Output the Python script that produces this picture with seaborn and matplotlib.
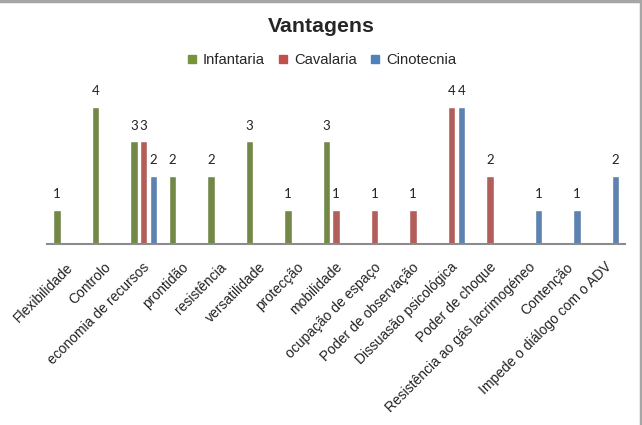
import matplotlib
matplotlib.use("Agg")
import matplotlib.pyplot as plt
import matplotlib.transforms as mtransforms
from matplotlib.lines import Line2D
import seaborn as sns
import pandas as pd

categorias = ["Flexibilidade", "Controlo", "economia de recursos", "prontidão",
              "resistência", "versatilidade", "protecção", "mobilidade",
              "ocupação de espaço", "Poder de observação", "Dissuasão psicológica",
              "Poder de choque", "Resistência ao gás lacrimogéneo", "Contenção",
              "Impede o diálogo com o ADV"]
infantaria = [1, 4, 3, 2, 2, 3, 1, 3, 0, 0, 0, 0, 0, 0, 0]
cavalaria = [0, 0, 3, 0, 0, 0, 0, 1, 1, 1, 4, 2, 0, 0, 0]
cinotecnia = [0, 0, 2, 0, 0, 0, 0, 0, 0, 0, 4, 0, 1, 1, 2]
series = ["Infantaria", "Cavalaria", "Cinotecnia"]
cores = ["#77933C", "#C0504D", "#4F81BD"]

df = pd.DataFrame({
    "categoria": categorias * 3,
    "valor": infantaria + cavalaria + cinotecnia,
    "serie": [s for s in series for _ in categorias],
})

sns.set_style("white")
plt.rcParams["font.family"] = ["Liberation Sans", "DejaVu Sans"]

fig = plt.figure(figsize=(6.42, 4.25), dpi=100)
ax = fig.add_axes([47.4 / 642, 1 - 244 / 425, 577.6 / 642, 154 / 425])

sns.barplot(data=df, x="categoria", y="valor", hue="serie", hue_order=series,
            palette=cores, width=0.75, gap=0.22, errorbar=None, ax=ax, legend=False)

# rótulos só nas barras com valor
for cont, vals in zip(ax.containers, [infantaria, cavalaria, cinotecnia]):
    ax.bar_label(cont, labels=[str(v) if v > 0 else "" for v in vals],
                 padding=7, fontsize=9.5, family="Lato", color="#222222")

ax.set_xlim(-0.5, len(categorias) - 0.5)
ax.set_ylim(0, 4.5)
ax.set_yticks([])
ax.set_xlabel("")
ax.set_ylabel("")
for s in ["left", "top", "right"]:
    ax.spines[s].set_visible(False)
ax.spines["bottom"].set_color("#8c8c8c")
ax.spines["bottom"].set_linewidth(1.5)

ax.set_xticks(range(len(categorias)))
ax.set_xticklabels(categorias, rotation=45, ha="right", va="center",
                   rotation_mode="anchor", fontsize=10, color="#222222")
ax.tick_params(axis="x", length=0, pad=0)
offset = mtransforms.ScaledTranslation(4 / 100, -21 / 100, fig.dpi_scale_trans)
for lab in ax.get_xticklabels():
    lab.set_transform(lab.get_transform() + offset)

fig.text(0.5, 1 - 26 / 425, "Vantagens", ha="center", va="center",
         fontsize=15.3, fontweight="bold")

handles = [Line2D([], [], marker="s", linestyle="", color=c, markersize=5.5) for c in cores]
fig.legend(handles, series, loc="center", bbox_to_anchor=(0.5, 1 - 60 / 425),
           ncol=3, frameon=False, fontsize=10.6, handletextpad=0.35,
           columnspacing=0.82, handlelength=0.8)

fig.add_artist(Line2D([0, 1], [1 - 1 / 425, 1 - 1 / 425], transform=fig.transFigure,
                      color="#a6a6a6", linewidth=2.5))
fig.add_artist(Line2D([1 - 1.5 / 642, 1 - 1.5 / 642], [0, 1], transform=fig.transFigure,
                      color="#a6a6a6", linewidth=2.5))

fig.savefig("out.png", dpi=100)
